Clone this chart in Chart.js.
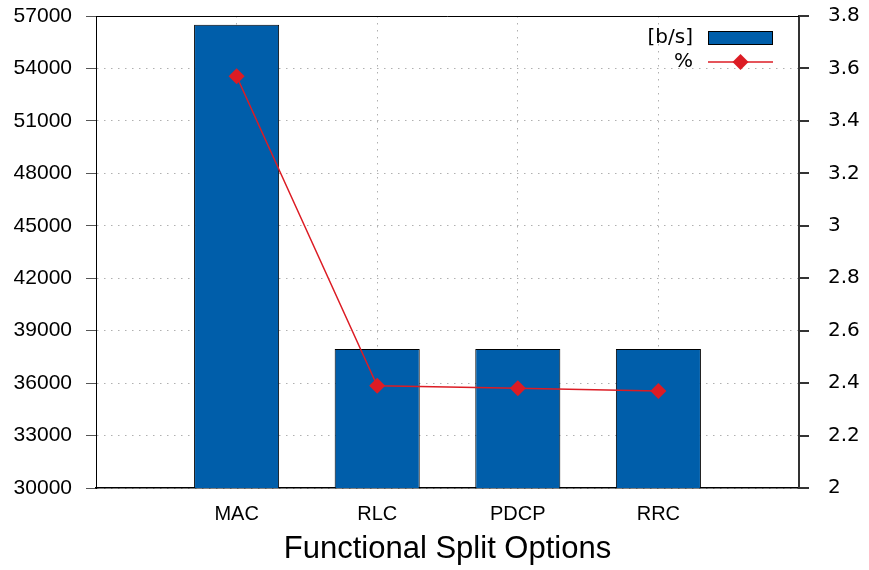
<!DOCTYPE html>
<html>
<head>
<meta charset="utf-8">
<script src="https://cdn.jsdelivr.net/npm/chart.js@4.4.1/dist/chart.umd.min.js"></script>
<style>
  body { margin: 0; background: #fff; }
  #wrap { width: 869px; height: 570px; }
</style>
</head>
<body>
<div id="wrap"><canvas id="splitChart"></canvas></div>
<script>
// values
const categories = ['MAC', 'RLC', 'PDCP', 'RRC'];
const bitRate = [56500, 37950, 37950, 37950];     // [b/s], left axis
const percent = [3.57, 2.39, 2.38, 2.37];         // %, right axis
const leftTicks = [30000, 57000, 3000];           // min, max, step
const rightTicks = [2, 3.8, 0.2];

// one empty slot each side so the categories sit at 1..4 of 0..5
const labels = [''].concat(categories, ['']);
const barData = [null].concat(bitRate, [null]);
const lineData = [null].concat(percent, [null]);

const barColor = '#005eaa';
const lineColor = '#dc1c24';

// frame top + legend in the top right corner
const framePlugin = {
    id: 'frame',
    afterDraw(chart) {
        const ctx = chart.ctx;
        const a = chart.chartArea;
        ctx.save();
        ctx.strokeStyle = '#000';
        ctx.lineWidth = 1;
        ctx.beginPath();
        ctx.moveTo(a.left, a.top + 0.5);
        ctx.lineTo(a.right, a.top + 0.5);
        ctx.stroke();

        const ds = chart.data.datasets;
        const textRight = a.right - 106;
        const sx = a.right - 91, ex = a.right - 26;
        ctx.font = '20px "DejaVu Sans"';
        ctx.fillStyle = '#000';
        ctx.textAlign = 'right';
        ctx.textBaseline = 'middle';

        // bar entry
        let y = a.top + 22;
        ctx.fillText(ds[0].label, textRight, y);
        ctx.fillStyle = ds[0].backgroundColor;
        ctx.fillRect(sx, y - 6.5, ex - sx, 13);
        ctx.strokeStyle = '#000';
        ctx.strokeRect(sx + 0.5, y - 6.5, ex - sx - 1, 13);

        // line entry
        y = a.top + 46;
        ctx.fillStyle = '#000';
        ctx.fillText(ds[1].label, textRight, y);
        ctx.strokeStyle = ds[1].borderColor;
        ctx.lineWidth = 1.5;
        ctx.beginPath();
        ctx.moveTo(sx, y);
        ctx.lineTo(ex, y);
        ctx.stroke();
        const cx = (sx + ex) / 2, r = 8;
        ctx.fillStyle = ds[1].pointBackgroundColor;
        ctx.beginPath();
        ctx.moveTo(cx - r, y);
        ctx.lineTo(cx, y - r);
        ctx.lineTo(cx + r, y);
        ctx.lineTo(cx, y + r);
        ctx.closePath();
        ctx.fill();
        ctx.restore();
    }
};

// fixed axis sizes so the plot box lands where the figure has it
function fixWidth(w) {
    return function (scale) {
        scale.width = w;
        scale.paddingTop = 0;
        scale.paddingBottom = 0;
    };
}

const ctx = document.getElementById('splitChart').getContext('2d');
new Chart(ctx, {
    type: 'bar',
    data: {
        labels: labels,
        datasets: [{
            type: 'bar',
            label: '[b/s]',
            data: barData,
            yAxisID: 'y',
            backgroundColor: barColor,
            borderColor: '#000',
            borderWidth: 1,
            borderSkipped: false,
            barPercentage: 0.605,
            categoryPercentage: 1,
            order: 1
        }, {
            type: 'line',
            label: '%',
            data: lineData,
            yAxisID: 'y2',
            borderColor: lineColor,
            borderWidth: 1.5,
            pointStyle: 'rectRot',
            pointRadius: 8,
            pointBorderWidth: 0,
            pointBackgroundColor: lineColor,
            pointBorderColor: lineColor,
            tension: 0,
            spanGaps: false,
            order: 0
        }]
    },
    options: {
        responsive: true,
        maintainAspectRatio: false,
        animation: false,
        layout: { padding: { top: 16, left: 0, right: 0, bottom: 0 } },
        plugins: {
            legend: { display: false },
            tooltip: { enabled: false }
        },
        scales: {
            x: {
                offset: false,
                grid: {
                    offset: false,
                    color: c => (c.index === 0 || c.index === labels.length - 1) ? 'rgba(0,0,0,0)' : '#b0b0b0',
                    lineWidth: 1,
                    drawTicks: false
                },
                border: { color: '#000', width: 1.5, dash: [1.5, 5.5] },
                ticks: {
                    color: '#000',
                    padding: 14,
                    maxRotation: 0,
                    autoSkip: false,
                    font: { family: '"Liberation Sans", Arial, sans-serif', size: 20 }
                },
                title: {
                    display: true,
                    text: 'Functional Split Options',
                    color: '#000',
                    padding: { top: 0, bottom: 2 },
                    font: { family: '"Liberation Sans", Arial, sans-serif', size: 31 }
                },
                afterFit(scale) {
                    scale.height = 82;
                    scale.paddingLeft = 0;
                    scale.paddingRight = 0;
                }
            },
            y: {
                position: 'left',
                min: leftTicks[0],
                max: leftTicks[1],
                grid: {
                    color: '#b0b0b0',
                    lineWidth: 1,
                    tickLength: 10,
                    tickColor: '#555',
                    tickBorderDash: []
                },
                border: { color: '#000', width: 1, dash: [1.5, 5.5] },
                ticks: {
                    stepSize: leftTicks[2],
                    color: '#000',
                    padding: 14,
                    font: { family: '"Liberation Sans", Arial, sans-serif', size: 21 },
                    callback: v => String(v)
                },
                afterFit: fixWidth(96)
            },
            y2: {
                position: 'right',
                min: rightTicks[0],
                max: rightTicks[1],
                grid: {
                    drawOnChartArea: false,
                    tickLength: 10,
                    tickColor: '#333',
                    tickBorderDash: [],
                    lineWidth: 2
                },
                border: { color: '#333', width: 2 },
                ticks: {
                    stepSize: rightTicks[2],
                    color: '#000',
                    padding: 19,
                    font: { family: '"DejaVu Sans", sans-serif', size: 20 },
                    callback: v => String(+v.toFixed(1))
                },
                afterFit: fixWidth(70)
            }
        }
    },
    plugins: [framePlugin]
});
</script>
</body>
</html>
